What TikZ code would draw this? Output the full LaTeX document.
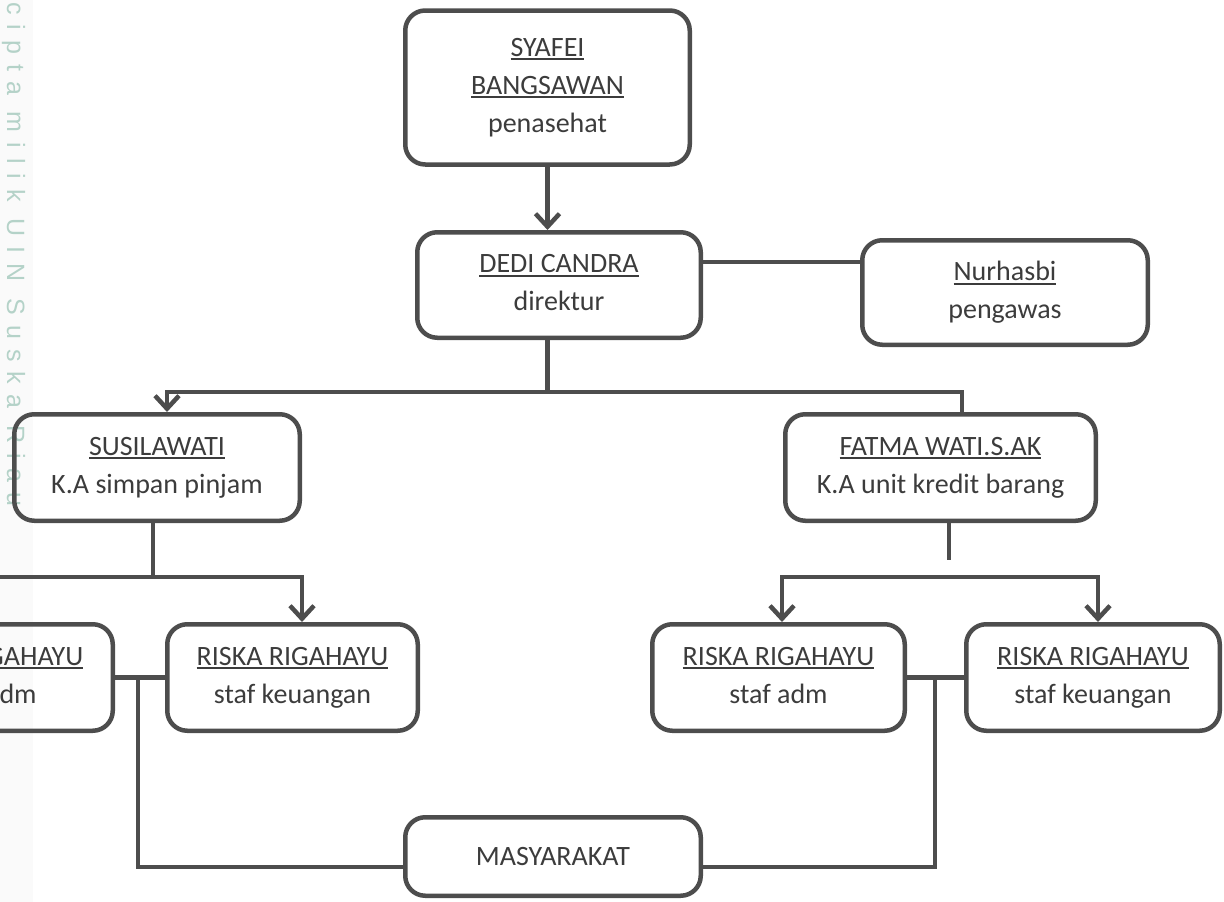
\documentclass[tikz,border=0pt]{standalone}
\usepackage{fontspec}
\setmainfont{Carlito}
\newfontfamily\wmfont[LetterSpace=40]{Liberation Sans}
\usetikzlibrary{arrows.meta}
\definecolor{lc}{HTML}{4D4D4D}
\definecolor{tc}{HTML}{3C3C3C}
\definecolor{wmc}{HTML}{B4D2C8}
\newcommand{\ulx}[1]{\setbox0=\hbox{#1}\rlap{\rule[-4pt]{\wd0}{1.9pt}}\box0}
\newcommand{\dph}{\vphantom{g}}
\tikzset{
  box/.style={draw=lc, line width=4.5pt, rounded corners=20pt,
    align=center, text=tc, font=\fontsize{28}{38}\selectfont, inner sep=0pt},
  conn/.style={draw=lc, line width=4.5pt},
  barb/.tip={Straight Barb[length=13pt,width=24pt]},
}
\begin{document}
\begin{tikzpicture}[x=1pt,y=-1pt]
\clip (0,0) rectangle (1224,902);
\fill[gray!4] (0,0) rectangle (33,902);
\node[rotate=-90, anchor=base west, text=wmc, inner sep=0pt,
  font=\wmfont\fontsize{25}{25}\selectfont] (wm) at (7,2) {cipta milik UIN Suska Riau};

\node[box, minimum width=284.5pt, minimum height=154pt] (syafei) at (547.5,87.5)
  {\ulx{SYAFEI}\\\ulx{BANGSAWAN}\\penasehat\dph};
\node[box, minimum width=283.5pt, minimum height=105.5pt] (dedi) at (559,285)
  {\ulx{DEDI CANDRA}\\direktur\dph};
\node[box, minimum width=285.5pt, minimum height=104.5pt] (nurhasbi) at (1005,292.5)
  {\ulx{Nurhasbi}\\pengawas};
\node[box, minimum width=285.5pt, minimum height=106.5pt] (susi) at (157,467.5)
  {\ulx{SUSILAWATI}\\K.A simpan pinjam};
\node[box, minimum width=310.5pt, minimum height=106.5pt] (fatma) at (940.5,467.5)
  {\ulx{FATMA WATI.S.AK}\\K.A unit kredit barang};
\node[box, minimum width=250.5pt, minimum height=106.5pt] (rL0) at (-12.5,677.5)
  {\ulx{RISKA RIGAHAYU}\\staf adm\dph};
\node[box, minimum width=250.5pt, minimum height=106.5pt] (rL1) at (292.5,677.5)
  {\ulx{RISKA RIGAHAYU}\\staf keuangan};
\node[box, minimum width=252.5pt, minimum height=106.5pt] (rR0) at (778.5,677.5)
  {\ulx{RISKA RIGAHAYU}\\staf adm\dph};
\node[box, minimum width=253.5pt, minimum height=106.5pt] (rR1) at (1093,677.5)
  {\ulx{RISKA RIGAHAYU}\\staf keuangan};
\node[box, minimum width=295.5pt, minimum height=78.5pt] (masy) at (553,856.5)
  {MASYARAKAT};

% top
\draw[conn, -barb] (syafei.south) -- (syafei.south |- dedi.north);
\draw[conn] ([yshift=23pt]dedi.east) -- ([yshift=23pt]dedi.east -| nurhasbi.west);

\coordinate (j1) at (547.5,392);
\coordinate (hL) at (167,392);
\coordinate (hR) at (962,392);
\draw[conn] (dedi.south -| j1) -- (j1);
\draw[conn, barb-] (hL |- susi.north) -- (hL) -- (hR) -- (hR |- fatma.north);

% susilawati branch
\coordinate (j2) at (153,577);
\coordinate (k0) at (-30,577);
\coordinate (k1) at (302,577);
\draw[conn] (j2 |- susi.south) -- (j2);
\draw[conn, barb-barb] (k0 |- rL0.north) -- (k0) -- (k1) -- (k1 |- rL1.north);

% fatma branch
\coordinate (j3) at (949,560);
\coordinate (m0) at (782,577);
\coordinate (m1) at (1098,577);
\draw[conn] (j3 |- fatma.south) -- (j3);
\draw[conn, barb-barb] (m0 |- rR0.north) -- (m0) -- (m1) -- (m1 |- rR1.north);

% bottom
\coordinate (n1) at (138,677.5);
\coordinate (n2) at (935,677.5);
\draw[conn] (rL0.east) -- (rL1.west);
\draw[conn] (rR0.east) -- (rR1.west);
\draw[conn] (n1) |- ([yshift=-10.5pt]masy.west);
\draw[conn] (n2) |- ([yshift=-10.5pt]masy.east);
\end{tikzpicture}
\end{document}
